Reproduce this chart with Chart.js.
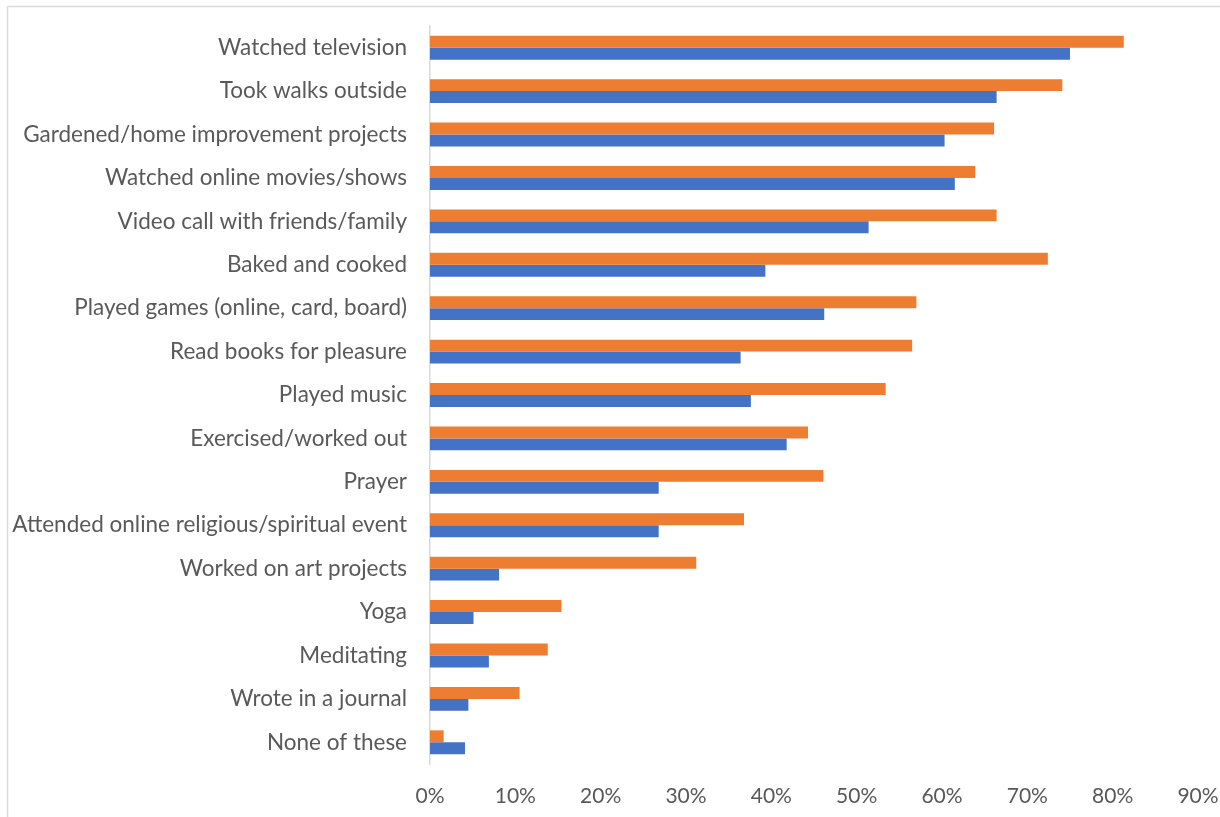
<!DOCTYPE html>
<html>
<head>
<meta charset="utf-8">
<script src="https://cdn.jsdelivr.net/npm/chart.js@4/dist/chart.umd.min.js"></script>
<style>
  html, body { margin: 0; padding: 0; background: #fff; }
  #wrap { width: 1220px; height: 817px; position: relative; }
</style>
</head>
<body>
<div id="wrap"><canvas id="c" width="1220" height="817"></canvas></div>
<script>
const categories = [
  "Watched television",
  "Took walks outside",
  "Gardened/home improvement projects",
  "Watched online movies/shows",
  "Video call with friends/family",
  "Baked and cooked",
  "Played games (online, card, board)",
  "Read books for pleasure",
  "Played music",
  "Exercised/worked out",
  "Prayer",
  "Attended online religious/spiritual event",
  "Worked on art projects",
  "Yoga",
  "Meditating",
  "Wrote in a journal",
  "None of these"
];
const orangeValues = [81.3, 74.1, 66.1, 63.9, 66.4, 72.4, 57.0, 56.5, 53.4, 44.3, 46.1, 36.8, 31.2, 15.4, 13.8, 10.5, 1.6];
const blueValues   = [75.0, 66.4, 60.3, 61.5, 51.4, 39.3, 46.2, 36.4, 37.6, 41.8, 26.8, 26.8, 8.1, 5.1, 6.9, 4.5, 4.1];
const xTickValues = [0, 10, 20, 30, 40, 50, 60, 70, 80, 90];

const FONT = "Lato, 'Open Sans', sans-serif";
const TEXT = "#595959";

const framePlugin = {
  id: 'frame',
  beforeDraw(chart) {
    const ctx = chart.ctx;
    ctx.save();
    ctx.fillStyle = '#fff';
    ctx.fillRect(0, 0, chart.width, chart.height);
    ctx.strokeStyle = '#d9d9d9';
    ctx.lineWidth = 1.5;
    ctx.strokeRect(7.5, 6.5, 1400, 1000);
    ctx.restore();
  }
};

function zeroPad(scale) {
  scale.paddingTop = 0; scale.paddingBottom = 0;
  scale.paddingLeft = 0; scale.paddingRight = 0;
}

new Chart(document.getElementById('c'), {
  type: 'bar',
  data: {
    labels: categories,
    datasets: [
      { label: 'Series 2', data: orangeValues, backgroundColor: '#ED7D31', borderWidth: 0,
        categoryPercentage: 0.55, barPercentage: 1.0 },
      { label: 'Series 1', data: blueValues, backgroundColor: '#4472C4', borderWidth: 0,
        categoryPercentage: 0.55, barPercentage: 1.0 }
    ]
  },
  options: {
    indexAxis: 'y',
    responsive: false,
    animation: false,
    layout: { padding: { top: 26, right: 22, bottom: 0, left: 0 } },
    plugins: {
      legend: { display: false },
      tooltip: { enabled: false }
    },
    scales: {
      y: {
        grid: { display: false, drawTicks: false },
        border: { display: true, color: '#d9d9d9', width: 1.5 },
        ticks: {
          color: TEXT,
          font: { family: FONT, size: 22.5 },
          padding: 23,
          autoSkip: false
        },
        afterFit(scale) { scale.width = 430; zeroPad(scale); }
      },
      x: {
        min: 0, max: 90,
        grid: { display: false, drawTicks: false },
        border: { display: false },
        afterBuildTicks(scale) { scale.ticks = xTickValues.map(v => ({ value: v })); },
        ticks: {
          color: TEXT,
          font: { family: FONT, size: 21 },
          padding: 20,
          maxRotation: 0,
          callback: v => v + '%'
        },
        afterFit(scale) { scale.height = 53; zeroPad(scale); }
      }
    }
  },
  plugins: [framePlugin]
});
</script>
</body>
</html>
